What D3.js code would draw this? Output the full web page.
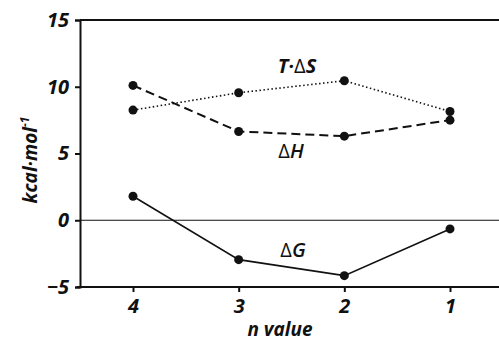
<!DOCTYPE html>
<html>
<head>
<meta charset="utf-8">
<script src="https://cdn.jsdelivr.net/npm/d3@7"></script>
<style>
    body { margin: 0; background: #fff; }
    text { font-family: "Open Sans", "Liberation Sans", sans-serif; fill: #111; }
</style>
</head>
<body>
<div id="chart"></div>
<script>
// n values shown along x (reversed order)
let nValues = ["4", "3", "2", "1"];

// series values (kcal/mol)
let dH = [10.1, 6.65, 6.3, 7.5];
let TdS = [8.25, 9.55, 10.45, 8.15];
let dG = [1.8, -2.95, -4.15, -0.65];

let yTicks = [-5, 0, 5, 10, 15];

let width = 499, height = 341;
let margin = {top: 20, right: 0, bottom: 54, left: 80};

let svg = d3.select("#chart").append("svg")
    .attr("width", width)
    .attr("height", height);

// scales
let x = d3.scalePoint()
    .domain(nValues)
    .range([133, 450]);

let y = d3.scaleLinear()
    .domain([-5, 15])
    .range([height - margin.bottom, margin.top]);

// top border
svg.append("line")
    .attr("x1", margin.left).attr("x2", width)
    .attr("y1", y(15)).attr("y2", y(15))
    .attr("stroke", "#111").attr("stroke-width", 2);

// zero line
svg.append("line")
    .attr("x1", margin.left).attr("x2", width)
    .attr("y1", y(0)).attr("y2", y(0))
    .attr("stroke", "#111").attr("stroke-width", 1);

// y axis
let yAxis = svg.append("g")
    .attr("transform", `translate(${margin.left},0)`)
    .call(d3.axisLeft(y).tickValues(yTicks).tickSize(5).tickPadding(6));

// x axis
let xAxis = svg.append("g")
    .attr("transform", `translate(0,${y(-5)})`)
    .call(d3.axisBottom(x).tickSize(5).tickPadding(7).tickSizeOuter(0));

xAxis.select(".domain").attr("d", `M77,0H${width}`);

[xAxis, yAxis].forEach(ax => {
    ax.select(".domain").attr("stroke", "#111").attr("stroke-width", 2);
    ax.selectAll(".tick line").attr("stroke", "#111").attr("stroke-width", 2);
    ax.selectAll(".tick text")
        .style("font-size", "20px")
        .style("font-weight", "bold")
        .style("font-style", "italic")
        .attr("fill", "#111");
});

// axis titles
svg.append("text")
    .attr("x", 280).attr("y", 336)
    .attr("text-anchor", "middle")
    .style("font-size", "19px").style("font-weight", "bold").style("font-style", "italic")
    .text("n value");

let yTitle = svg.append("text")
    .attr("transform", `translate(37,160) rotate(-90)`)
    .attr("text-anchor", "middle")
    .style("font-size", "19px").style("font-weight", "bold").style("font-style", "italic");
yTitle.append("tspan").text("kcal·mol");
yTitle.append("tspan").attr("dy", -8).style("font-size", "12px").text("-1");

// series
let series = [
    {name: "dH", values: dH, dash: "9,5", width: 2},
    {name: "TdS", values: TdS, dash: "1.5,2.5", width: 1.6},
    {name: "dG", values: dG, dash: null, width: 1.6}
];

let line = d3.line()
    .x((d, i) => x(nValues[i]))
    .y(d => y(d));

series.forEach(s => {
    svg.append("path")
        .datum(s.values)
        .attr("d", line)
        .attr("fill", "none")
        .attr("stroke", "#111")
        .attr("stroke-width", s.width)
        .attr("stroke-dasharray", s.dash);

    svg.selectAll(".dot-" + s.name)
        .data(s.values)
        .enter()
        .append("circle")
        .attr("cx", (d, i) => x(nValues[i]))
        .attr("cy", d => y(d))
        .attr("r", 4.5)
        .attr("fill", "#111");
});

// series labels: Δ upright, letters italic
let labels = [
    {pre: "T·", sym: "S", x: 297, y: 73, weight: "bold"},
    {pre: "", sym: "H", x: 291, y: 158, weight: "600"},
    {pre: "", sym: "G", x: 293, y: 257, weight: "600"}
];

let lab = svg.selectAll(".series-label")
    .data(labels)
    .enter()
    .append("text")
    .attr("class", "series-label")
    .attr("x", d => d.x)
    .attr("y", d => d.y)
    .attr("text-anchor", "middle")
    .style("font-size", "20px")
    .style("font-weight", d => d.weight);

lab.append("tspan").style("font-style", "italic").text(d => d.pre);
lab.append("tspan").style("font-weight", "normal").text("Δ");
lab.append("tspan").style("font-style", "italic").text(d => d.sym);
</script>
</body>
</html>
